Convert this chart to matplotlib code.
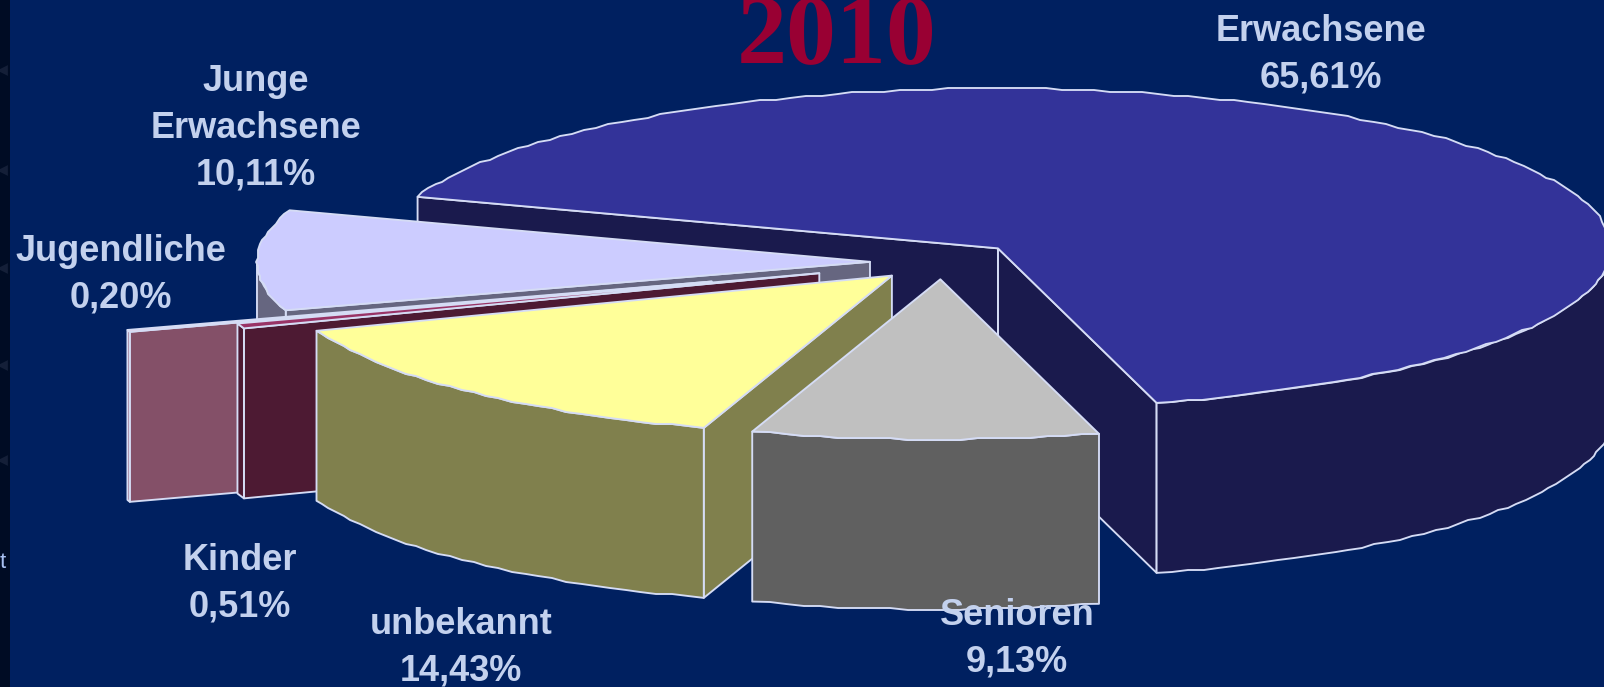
import numpy as np
import matplotlib
matplotlib.use("Agg")
import matplotlib.pyplot as plt
from matplotlib.patches import Polygon, Rectangle

# values from the slide, in drawing order
labels = ["Erwachsene", "Junge\nErwachsene", "Jugendliche", "Kinder", "unbekannt", "Senioren"]
values = [65.61, 10.11, 0.20, 0.51, 14.43, 9.13]
explode = [0.125, 0.1175, 0.395, 0.212, 0.118, 0.108]

top_colors = ["#333399", "#ccccff", "#ffccdd", "#993366", "#ffff99", "#c0c0c0"]
side_colors = ["#1a1a4d", "#666680", "#845068", "#4d1a33", "#80804d", "#606060"]

# label centres in pixels
label_xy = [(1321, 55), (256, 128), (121, 275), (240, 584), (461, 648), (1017, 639)]
strip_marks = [70, 170, 268, 365, 460]

bg = "#002060"
edge = "#d5dcf5"
text_col = "#c3d1ee"

# pie geometry in pixels
cx, cy = 942, 262
a, b = 613, 160
depth = 170
start_angle = -75.0

fig = plt.figure(figsize=(16.04, 6.87), dpi=100, facecolor=bg)
ax = fig.add_axes([0, 0, 1, 1])
ax.set_xlim(0, 1604)
ax.set_ylim(687, 0)
ax.axis("off")

# dark strip at the left of the slide
ax.add_patch(Rectangle((0, 0), 10, 687, facecolor="#000c24", edgecolor="none", zorder=0))
ax.scatter([2] * len(strip_marks), strip_marks, marker="<", s=60, color="#141f38", linewidths=0, zorder=0.5)
ax.text(0, 563, "t", color="#a8c0f0", fontsize=16, family="Liberation Sans", ha="left", va="center")


def face(pts, color, z):
    ax.add_patch(Polygon(pts, closed=True, facecolor=color, edgecolor=edge,
                         linewidth=1.35, joinstyle="round", zorder=z))


def point(x0, y0, deg):
    return x0 + a * np.cos(np.radians(deg)), y0 - b * np.sin(np.radians(deg))


def rough_arc(x0, y0, t0, t1):
    # the slide's arcs are coarse polylines on a pixel grid
    n = max(int((t1 - t0) / 1.5), 2)
    ts = np.linspace(t0, t1, n)
    xs, ys = point(x0, y0, ts)
    xs[1:-1] = np.round(xs[1:-1] / 2) * 2
    ys[1:-1] = np.round(ys[1:-1] / 2) * 2
    return xs, ys


angle = start_angle
z = 1
for i, v in enumerate(values):
    sweep = v / sum(values) * 360
    t0, t1 = angle, angle + sweep
    angle = t1
    mid = np.radians((t0 + t1) / 2)
    x0 = cx + explode[i] * a * np.cos(mid)
    y0 = cy - explode[i] * b * np.sin(mid)

    # radial faces, only those turned to the viewer
    for t, n in ((t0, t0 - 90), (t1, t1 + 90)):
        if np.sin(np.radians(n)) < 0:
            x1, y1 = point(x0, y0, t)
            face([(x0, y0), (x1, y1), (x1, y1 + depth), (x0, y0 + depth)], side_colors[i], z)
            z += 1

    # outer rim, front half only
    for lo, hi in ((-180, 0), (180, 360)):
        r0, r1 = max(t0, lo), min(t1, hi)
        if r1 > r0:
            xs, ys = rough_arc(x0, y0, r0, r1)
            rim = list(zip(xs, ys)) + list(zip(xs[::-1], ys[::-1] + depth))
            face(rim, side_colors[i], z)
            z += 1

    # top of the slice
    xs, ys = rough_arc(x0, y0, t0, t1)
    face([(x0, y0)] + list(zip(xs, ys)), top_colors[i], z)
    z += 1

for name, v, (lx, ly) in zip(labels, values, label_xy):
    pct = f"{v:.2f}%".replace(".", ",")
    ax.text(lx, ly, name + "\n" + pct, color=text_col, fontsize=26, fontweight="bold",
            family="Liberation Sans", ha="center", va="center", linespacing=1.44, zorder=100)

ax.text(837, 62, "2010", color="#990033", fontsize=72, fontweight="bold",
        family="Liberation Serif", ha="center", va="baseline", zorder=100)

fig.savefig("out.png", dpi=100, facecolor=bg)
